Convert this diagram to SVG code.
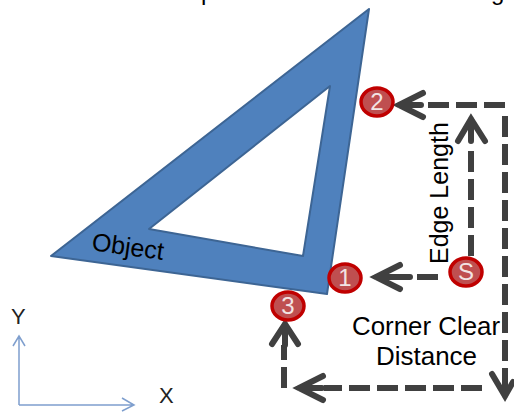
<svg xmlns="http://www.w3.org/2000/svg" width="514" height="412" viewBox="0 0 514 412">
<style>
text{font-family:"Liberation Sans",Arial,sans-serif;fill:#000}
.lbl{font-size:25px}
.ax-l{font-size:22px;fill:#222}
.dash{fill:none;stroke:#404040;stroke-width:6;stroke-dasharray:21 7}
.head{fill:none;stroke:#404040;stroke-width:6;stroke-linecap:round;stroke-linejoin:miter}
.ax{fill:none;stroke:#7f9fce;stroke-width:1.5}
.pt{fill:#bf4f50;stroke:#c00000;stroke-width:3.5}
.ptl{font-size:24px;fill:#f2e4e4;text-anchor:middle}
</style>
<rect width="514" height="412" fill="#fff"/>
<g id="title-fragment"><text x="201" y="0" font-size="24">p</text><text x="491" y="0" font-size="24">g</text></g>
<g id="object">
<path d="M369 9L51 256L327 294ZM330 86L303 256L149 229Z" fill="#4f81bd" stroke="#3d6594" stroke-width="2" fill-rule="evenodd" stroke-linejoin="round"/>
<text class="lbl" transform="translate(91 250) rotate(8)">Object</text>
</g>
<g id="axes">
<path class="ax" d="M19 405V336M13 346L19 336L25 346M19 405H134M122 398L134 405L122 411"/>
<text class="ax-l" x="11" y="324">Y</text>
<text class="ax-l" x="159" y="403">X</text>
</g>
<g id="connectors">
<path class="dash" d="M505 105H428"/><path class="head" d="M423 93L399 105L423 117M399 105H421"/>
<path class="dash" d="M505 116V373"/><path class="head" d="M492 374L505 396L513 382M505 396V372"/>
<path class="dash" d="M482 388H324"/><path class="head" d="M323 376L299 388L323 400M299 388H322"/>
<path class="dash" d="M284 388V345"/><path class="head" d="M272 344L285 324L298 344M285 324V345"/>
<path class="dash" d="M471 256V146"/><path class="head" d="M458 141L471 119L485 141M471 119V141"/>
<path class="dash" d="M438 277H415"/><path class="head" d="M400 265L376 277L400 289M376 277H410"/>
</g>
<g id="node-2"><ellipse class="pt" cx="377" cy="102" rx="16" ry="14"/><text class="ptl" x="377" y="110">2</text></g>
<g id="node-1"><ellipse class="pt" cx="345" cy="278" rx="16" ry="14"/><text class="ptl" x="345" y="286">1</text></g>
<g id="node-3"><ellipse class="pt" cx="288" cy="306" rx="16" ry="14"/><text class="ptl" x="288" y="314">3</text></g>
<g id="node-S"><ellipse class="pt" cx="466" cy="272" rx="16" ry="14"/><text class="ptl" x="466" y="280">S</text></g>
<g id="labels">
<text class="lbl" transform="translate(448 264) rotate(-90)">Edge Length</text>
<text class="lbl" x="352" y="335" textLength="148" lengthAdjust="spacingAndGlyphs">Corner Clear</text>
<text class="lbl" x="376" y="365" textLength="101" lengthAdjust="spacingAndGlyphs">Distance</text>
</g>
</svg>
